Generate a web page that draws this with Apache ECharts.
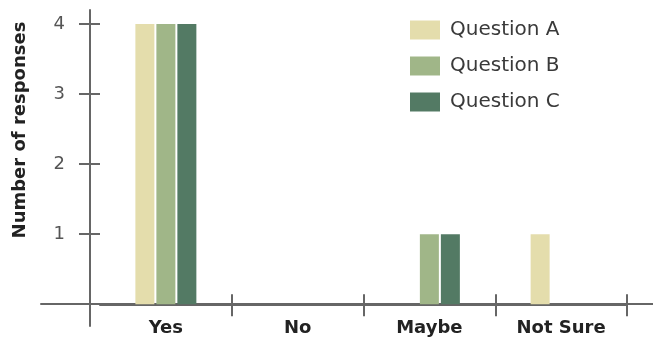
<!DOCTYPE html>
<html>
<head>
<meta charset="utf-8">
<script src="https://cdn.jsdelivr.net/npm/echarts@6/dist/echarts.min.js"></script>
<style>
  html, body { margin: 0; padding: 0; background: #fff; }
  #chart { width: 653px; height: 337px; }
</style>
</head>
<body>
<div id="chart"></div>
<script>
// Survey answers per question
const categories = ['Yes', 'No', 'Maybe', 'Not Sure'];
const seriesNames = ['Question A', 'Question B', 'Question C'];
const questionA = [4, 0, 0, 1];
const questionB = [4, 0, 1, 0];
const questionC = [4, 0, 1, 0];
const yTickValues = [1, 2, 3, 4];

const colors = ['#e4ddac', '#a0b688', '#537a64'];
const axisColor = '#666666';
const font = 'DejaVu Sans';

const Y_MIN = -0.31, Y_MAX = 4.2;

const chart = echarts.init(document.getElementById('chart'), null, { renderer: 'canvas' });

const valueAxisBase = {
  type: 'value', gridIndex: 0, position: 'left', min: Y_MIN, max: Y_MAX, offset: 10,
  splitLine: { show: false }
};

const option = {
  animation: false,
  color: colors,
  textStyle: { fontFamily: font },
  grid: [
    { left: 100, right: 26, top: 10, bottom: 11, outerBoundsMode: 'none', containLabel: false },
    { left: 41, right: 0, top: 10, bottom: 33, outerBoundsMode: 'none', containLabel: false }
  ],
  legend: {
    orient: 'vertical', left: 410, top: 20, padding: 0,
    itemWidth: 30, itemHeight: 19, itemGap: 16,
    icon: 'rect',
    textStyle: { fontSize: 20, color: '#3a3a3a', fontFamily: font, padding: [0, 0, 0, 5] },
    data: seriesNames
  },
  xAxis: [
    {
      type: 'category', gridIndex: 0, data: categories, position: 'bottom',
      axisLine: { show: true, onZero: true, onZeroAxisIndex: 0, lineStyle: { color: axisColor, width: 2 } },
      axisTick: { show: true, inside: false, length: 12, interval: (i) => i > 0, lineStyle: { color: axisColor, width: 2 } },
      axisLabel: { margin: -7, fontSize: 18, fontWeight: 'bold', color: '#222', fontFamily: font }
    },
    {
      type: 'category', gridIndex: 0, data: categories, position: 'bottom',
      axisLine: { show: false, onZero: true, onZeroAxisIndex: 1 },
      axisTick: { show: true, inside: true, length: 10, interval: (i) => i > 0, lineStyle: { color: axisColor, width: 2 } },
      axisLabel: { show: false }
    },
    {
      type: 'value', gridIndex: 1, min: 0, max: 1, position: 'bottom',
      axisLine: { show: true, onZero: false, lineStyle: { color: axisColor, width: 2 } },
      axisTick: { show: false }, axisLabel: { show: false }, splitLine: { show: false }
    }
  ],
  yAxis: [
    Object.assign({}, valueAxisBase, {
      axisLine: { show: true, onZero: false, lineStyle: { color: axisColor, width: 2 } },
      axisTick: { show: true, inside: false, length: 11, customValues: yTickValues, lineStyle: { color: axisColor, width: 2 } },
      axisLabel: { margin: 25, fontSize: 18, color: '#555', customValues: yTickValues, fontFamily: font }
    }),
    Object.assign({}, valueAxisBase, {
      axisLine: { show: false, onZero: false },
      axisTick: { show: true, inside: true, length: 10, customValues: yTickValues, lineStyle: { color: axisColor, width: 2 } },
      axisLabel: { show: false }
    }),
    { type: 'value', gridIndex: 1, show: false }
  ],
  graphic: [{
    type: 'text', x: 20, y: 130, rotation: Math.PI / 2,
    style: {
      text: 'Number of responses', fill: '#222',
      font: 'bold 18px "DejaVu Sans"', align: 'center', verticalAlign: 'middle'
    }
  }],
  series: [questionA, questionB, questionC].map((values, i) => ({
    name: seriesNames[i], type: 'bar', xAxisIndex: 0, yAxisIndex: 0,
    data: values, barWidth: 19, barGap: '10.5%',
    itemStyle: { color: colors[i] }
  }))
};

chart.setOption(option);
</script>
</body>
</html>
